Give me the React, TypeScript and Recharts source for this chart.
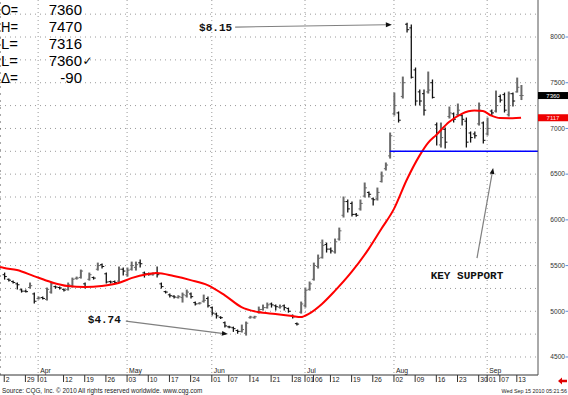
import React from 'react';
import { ComposedChart, Bar, Line, XAxis, YAxis, ReferenceLine, ReferenceDot, CartesianGrid } from 'recharts';

// Daily OHLC (trading-day index 0 = Mar 22 2010 ... 122 = Sep 14 2010), price in 1/10 cents
const highs = [
  5418, 5352, 5330, 5309, 5243, 5232, 5309, 5199, 5156, 5156,
  5254, 5320, 5276, 5265, 5243, 5309, 5363, 5374, 5451, 5309,
  5418, 5374, 5527, 5517, 5418, 5330, 5330, 5484, 5473, 5473,
  5538, 5538, 5560, 5429, 5418, 5418, 5484, 5309, 5220, 5188,
  5170, 5170, 5199, 5232, 5199, 5101, 5095, 5177, 5156, 5046,
  4980, 4940, 4882, 4835, 4827, 4795, 4849, 4882, 4945, 4945,
  5046, 5068, 5090, 5090, 5068, 5068, 5068, 5035, 4959, 4871,
  5101, 5254, 5320, 5527, 5615, 5779, 5746, 5692, 5790, 5910,
  6250, 6217, 6195, 6070, 6217, 6403, 6304, 6239, 6348, 6523,
  6622, 6950, 7387, 7180, 7562, 8150, 8131, 7661, 7420, 7420,
  7617, 7530, 7059, 7059, 7004, 7234, 7169, 7267, 7147, 7114,
  6961, 6961, 7278, 7070, 7114, 7201, 7409, 7365, 7387, 7398,
  7387, 7551, 7470,
];
const lows = [
  5352, 5330, 5309, 5243, 5210, 5210, 5254, 5090, 5134, 5134,
  5123, 5199, 5254, 5243, 5221, 5232, 5265, 5352, 5363, 5254,
  5341, 5352, 5451, 5473, 5309, 5309, 5309, 5320, 5396, 5385,
  5451, 5451, 5484, 5374, 5396, 5396, 5374, 5254, 5200, 5156,
  5145, 5145, 5101, 5156, 5145, 5068, 5080, 5101, 5046, 4959,
  4926, 4920, 4827, 4820, 4780, 4760, 4773, 4740, 4925, 4925,
  4980, 5013, 5035, 5046, 5013, 5035, 5013, 4990, 4926, 4849,
  4980, 5046, 5232, 5341, 5473, 5582, 5648, 5637, 5637, 5779,
  6031, 6086, 6042, 6040, 6107, 6250, 6250, 6162, 6217, 6414,
  6545, 6676, 7147, 7070, 7333, 8055, 7551, 7256, 7256, 7147,
  7387, 7333, 6818, 6797, 6786, 7114, 7070, 7147, 7037, 6797,
  6851, 6895, 7037, 6840, 6928, 7147, 7180, 7289, 7180, 7136,
  7245, 7398, 7316,
];
const opens = [
  5400, 5350, 5325, 5300, 5235, 5220, 5260, 5190, 5140, 5150,
  5130, 5210, 5270, 5260, 5240, 5240, 5280, 5360, 5370, 5300,
  5350, 5370, 5460, 5510, 5410, 5325, 5325, 5330, 5460, 5400,
  5460, 5480, 5530, 5420, 5410, 5400, 5420, 5300, 5215, 5180,
  5165, 5150, 5150, 5170, 5190, 5095, 5085, 5110, 5140, 5040,
  4970, 4935, 4875, 4830, 4820, 4790, 4780, 4760, 4930, 4930,
  4990, 5020, 5040, 5080, 5060, 5045, 5060, 5030, 4955, 4865,
  4990, 5060, 5240, 5350, 5490, 5590, 5730, 5680, 5650, 5790,
  6050, 6200, 6180, 6060, 6120, 6260, 6300, 6230, 6230, 6420,
  6560, 6700, 7160, 7170, 7350, 8140, 8100, 7640, 7400, 7380,
  7400, 7500, 7040, 6820, 6990, 7130, 7160, 7150, 7140, 7080,
  6950, 6940, 7050, 7060, 6940, 7190, 7190, 7350, 7370, 7150,
  7380, 7400, 7360,
];
const closes = [
  5380, 5340, 5315, 5290, 5220, 5215, 5280, 5110, 5145, 5140,
  5240, 5300, 5265, 5255, 5232, 5290, 5350, 5363, 5440, 5270,
  5400, 5363, 5500, 5490, 5320, 5320, 5315, 5460, 5440, 5450,
  5500, 5510, 5520, 5410, 5400, 5410, 5400, 5270, 5210, 5170,
  5156, 5160, 5180, 5210, 5160, 5080, 5090, 5120, 5060, 4980,
  4950, 4930, 4840, 4827, 4810, 4780, 4800, 4870, 4937, 4940,
  5020, 5040, 5070, 5070, 5050, 5050, 5040, 5000, 4940, 4860,
  5080, 5230, 5300, 5500, 5580, 5720, 5680, 5660, 5760, 5880,
  6200, 6120, 6060, 6050, 6180, 6350, 6280, 6220, 6300, 6480,
  6600, 6920, 7250, 7090, 7500, 8080, 7560, 7300, 7300, 7200,
  7420, 7340, 6950, 6900, 6850, 7170, 7100, 7200, 7100, 6850,
  6900, 6920, 7200, 6870, 7000, 7170, 7250, 7310, 7200, 7380,
  7300, 7450, 7360,
];

// Red moving average, read at these trading-day indices
const maIdx = [-1, 0, 3, 7, 11, 15, 19, 23, 27, 30, 34, 36, 40, 44, 48, 52, 56, 60, 64, 68, 70, 72, 75, 78, 82, 86, 89, 92, 95, 98, 100, 102, 105, 108, 111, 113, 115, 117, 120, 122];
const maVals = [5484, 5473, 5451, 5385, 5320, 5276, 5265, 5276, 5309, 5363, 5407, 5418, 5385, 5341, 5287, 5177, 5046, 4991, 4970, 4948, 4937, 4975, 5080, 5220, 5430, 5680, 5900, 6120, 6436, 6700, 6840, 6930, 7070, 7160, 7195, 7190, 7140, 7114, 7112, 7117];

const dateTickIdx = [0, 5, 8, 14, 19, 24, 29, 34, 39, 44, 49, 53, 58, 63, 68, 71, 73, 77, 82, 87, 92, 97, 102, 107, 112, 114, 117, 121];
const dateTickLabels = ['2', '29', '01', '12', '19', '26', '03', '10', '17', '24', '01', '07', '14', '21', '28', '01', '06', '12', '19', '26', '02', '09', '16', '23', '30', '01', '07', '13'];
const monthIdx = [8, 29, 49, 71, 92, 114];
const monthLabels = ['Apr', 'May', 'Jun', 'Jul', 'Aug', 'Sep'];
const priceTicks = [4500, 5000, 5500, 6000, 6500, 7000, 7500, 8000];
const gridPrices = [4500, 4750, 5000, 5250, 5500, 5750, 6000, 6250, 6500, 6750, 7000, 7250, 7500, 7750, 8000, 8250];

const supportLevel = 6750;
const supportFrom = 91;
const lastClose = 7360;
const lastMa = 7117;

const readoutLabels = ['O=', 'H=', 'L=', 'L=', '\u0394='];
const readoutValues = ['7360', '7470', '7316', '7360', '-90'];

const noteTexts = ['$8.15', '$4.74', 'KEY SUPPORT'];
const noteFrom = [[54.5, 8109], [28.7, 4893], [111.6, 5582]];
const noteTo = [[91.5, 8135], [52.8, 4751], [115.4, 6567]];
const noteTextOffset = [[-3, 3.7, 'end'], [-5, 2, 'end'], [-10, 21, 'middle']];

const rows = highs.map((h, i) => ({ i, range: [lows[i], h], o: opens[i], h, l: lows[i], c: closes[i] }));
const maData = maIdx.map((i, k) => ({ i, ma: maVals[k] }));

const FONT = "'Liberation Sans', Arial, sans-serif";

const OhlcShape = (props: any) => {
  const { x, y, width, height, payload } = props;
  if (x == null || y == null || !payload) return null;
  const cx = x + width / 2;
  const top = Math.min(y, y + height);
  const bot = Math.max(y, y + height);
  const { o, h, l, c } = payload;
  const py = (p: number) => top + ((h - p) / (h - l)) * (bot - top);
  const up = c >= o;
  const color = up ? '#6a6a6a' : '#111111';
  return (
    <g>
      <line x1={cx} x2={cx} y1={top - 0.5} y2={bot + 0.5} stroke={color} strokeWidth={up ? 2 : 1.3} />
      <line x1={cx - 2} x2={cx} y1={py(o)} y2={py(o)} stroke={color} strokeWidth={1} />
      <line x1={cx} x2={cx + 2.2} y1={py(c)} y2={py(c)} stroke={color} strokeWidth={1} />
    </g>
  );
};

const DateTick = (props: any) => {
  const { x, y, payload } = props;
  const k = dateTickIdx.indexOf(payload.value);
  const label = k >= 0 ? dateTickLabels[k] : '';
  return (
    <g>
      <line x1={x} x2={x} y1={y} y2={y + 7} stroke="#333" strokeWidth={1} />
      <text x={x + 1.5} y={y + 6.5} fontSize={6.8} fontFamily={FONT} fill="#222">{label}</text>
    </g>
  );
};

const PriceTick = (props: any) => {
  const { x, y, payload } = props;
  return (
    <g>
      <text x={x + 27} y={y + 2.3} textAnchor="end" fontSize={6.6} fontFamily={FONT} fill="#333">{payload.value}</text>
      <line x1={x + 27.5} x2={x + 30} y1={y} y2={y} stroke="#5b8fd6" strokeWidth={1} />
    </g>
  );
};

const makeArrow = (k: number) => (p: any) => {
  const { x1, y1, x2, y2 } = p;
  if ([x1, y1, x2, y2].some((v) => v == null || Number.isNaN(v))) return <g />;
  const ang = Math.atan2(y2 - y1, x2 - x1);
  const L = 6, Wd = 2.4;
  const bx = x2 - L * Math.cos(ang), by = y2 - L * Math.sin(ang);
  const pts = `${x2},${y2} ${bx + Wd * Math.sin(ang)},${by - Wd * Math.cos(ang)} ${bx - Wd * Math.sin(ang)},${by + Wd * Math.cos(ang)}`;
  const off = noteTextOffset[k];
  return (
    <g>
      <line x1={x1} y1={y1} x2={bx} y2={by} stroke="#808080" strokeWidth={1.2} />
      <polygon points={pts} fill="#111" />
      <text x={x1 + (off[0] as number)} y={y1 + (off[1] as number)} textAnchor={off[2] as any} fontSize={11} fontWeight="bold" fontFamily="'Liberation Mono', 'DejaVu Sans Mono', monospace" fill="#111">{noteTexts[k]}</text>
    </g>
  );
};

const makeTag = (text: string, bg: string, fg: string) => (p: any) => {
  const { cx, cy } = p;
  if (cx == null || cy == null) return <g />;
  return (
    <g>
      <rect x={cx} y={cy - 3.5} width={30} height={7} fill={bg} />
      <text x={cx + 15} y={cy + 2.2} textAnchor="middle" fontSize={6} fontFamily={FONT} fill={fg}>{text}</text>
    </g>
  );
};

export default function App() {
  return (
    <div style={{ position: 'absolute', left: 0, top: 0, width: 568, height: 395, background: '#fff' }}>
      <ComposedChart width={568} height={395} data={rows} margin={{ top: 0, right: 0, bottom: 0, left: 0 }}>
        <CartesianGrid horizontal={true} vertical={false} horizontalValues={gridPrices} stroke="#9a9a9a" strokeDasharray="1 4" />
        <CartesianGrid horizontal={false} vertical={true} verticalValues={monthIdx} stroke="#9a9a9a" strokeDasharray="1 3" />
        <XAxis
          dataKey="i"
          type="number"
          domain={[-1, 126]}
          ticks={dateTickIdx}
          interval={0}
          tick={<DateTick />}
          tickLine={false}
          tickSize={0}
          tickMargin={0}
          height={20}
          axisLine={{ stroke: '#333' }}
          allowDataOverflow
        />
        <YAxis
          orientation="right"
          domain={[4303, 8405]}
          ticks={priceTicks}
          interval={0}
          tick={<PriceTick />}
          tickLine={false}
          tickSize={0}
          tickMargin={0}
          width={30}
          axisLine={{ stroke: '#555' }}
          allowDataOverflow
        />
        <ReferenceLine x={-1} stroke="#555" strokeDasharray="2 5" />
        {monthIdx.map((m, k) => (
          <ReferenceLine
            key={'m' + k}
            x={m}
            stroke="none"
            label={{ value: monthLabels[k], position: 'insideBottomLeft', offset: 2, fontSize: 6.8, fill: '#222', fontFamily: FONT }}
          />
        ))}
        <Bar dataKey="range" shape={OhlcShape} barSize={3} isAnimationActive={false} />
        <Line data={maData} dataKey="ma" type="monotone" stroke="#ff0000" strokeWidth={2} dot={false} activeDot={false} isAnimationActive={false} />
        <ReferenceLine segment={[{ x: supportFrom, y: supportLevel }, { x: 126, y: supportLevel }]} stroke="#0000ff" strokeWidth={1.5} />
        {noteTexts.map((t, k) => (
          <ReferenceLine
            key={'n' + k}
            segment={[{ x: noteFrom[k][0], y: noteFrom[k][1] }, { x: noteTo[k][0], y: noteTo[k][1] }]}
            shape={makeArrow(k)}
          />
        ))}
        <ReferenceDot x={126} y={lastClose} r={0} ifOverflow="visible" shape={makeTag(String(lastClose), '#000', '#fff')} />
        <ReferenceDot x={126} y={lastMa} r={0} ifOverflow="visible" shape={makeTag(String(lastMa), '#ee0000', '#ffe0e0')} />
      </ComposedChart>
      <svg width={568} height={395} style={{ position: 'absolute', left: 0, top: 0, pointerEvents: 'none' }}>
        {readoutLabels.map((l, k) => (
          <g key={'r' + k}>
            <text x={1} y={15 + k * 17.1} fontSize={15} textLength={17} lengthAdjust="spacingAndGlyphs" fontFamily={FONT} fill="#000">{l}</text>
            <text x={82} y={15 + k * 17.1} textAnchor="end" fontSize={15} fontFamily={FONT} fill="#000">{readoutValues[k]}</text>
          </g>
        ))}
        <text x={82.5} y={65} fontSize={12} fontFamily="'DejaVu Sans', sans-serif" fill="#000">{'\u2713'}</text>
        <text x={2} y={393} fontSize={6.4} fontFamily={FONT} fill="#222">Source: CQG, Inc. © 2010 All rights reserved worldwide. www.cqg.com</text>
        <text x={567} y={393} textAnchor="end" fontSize={5.4} fontFamily={FONT} fill="#222">Wed Sep 15 2010 05:21:56</text>
        <polygon points="558,381 562,377.5 562,379.8 567,379.8 567,382.2 562,382.2 562,384.5" fill="#e00000" />
      </svg>
    </div>
  );
}
